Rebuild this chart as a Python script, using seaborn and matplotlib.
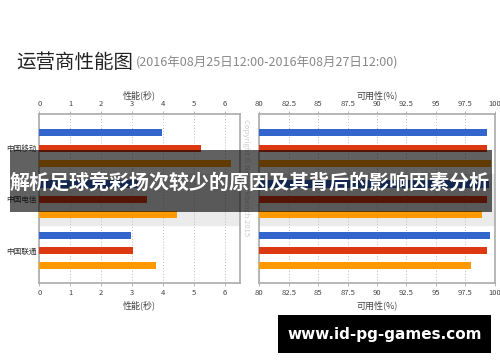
import pandas as pd
import matplotlib.pyplot as plt
import seaborn as sns
from matplotlib.patches import Rectangle

carriers = ["中国移动", "中国电信", "中国联通"]
series_names = ["指标1", "指标2", "指标3"]
colors = ["#3366cc", "#dc3912", "#ff9900"]

# performance (seconds), one list per series
perf_s1 = [3.96, 3.2, 2.96]
perf_s2 = [5.23, 3.49, 3.04]
perf_s3 = [6.18, 4.44, 3.77]

# availability (%)
avail_s1 = [99.35, 99.5, 99.6]
avail_s2 = [99.35, 99.35, 99.3]
avail_s3 = [99.65, 98.9, 98.0]

perf_ticks = [0, 1, 2, 3, 4, 5, 6]
avail_ticks = [80, 82.5, 85, 87.5, 90, 92.5, 95, 97.5, 100]
avail_labels = ["80", "82.5", "85", "87.5", "90", "92.5", "95", "97.5", "100"]


def long_table(a, b, c):
    rows = []
    for vals, name in zip([a, b, c], series_names):
        for carrier, v in zip(carriers, vals):
            rows.append({"carrier": carrier, "series": name, "value": v})
    return pd.DataFrame(rows)


perf = long_table(perf_s1, perf_s2, perf_s3)
avail = long_table(avail_s1, avail_s2, avail_s3)

sns.set_theme(style="white")
plt.rcParams['font.family'] = ['Noto Sans CJK SC', 'DejaVu Sans']

fig = plt.figure(figsize=(5, 3.62), dpi=100)
ax1 = fig.add_axes([0.0786, 0.218, 0.401, 0.467])
ax2 = fig.add_axes([0.5186, 0.218, 0.471, 0.467])

for ax, data, lim, ticks, labels, xlabel in [
    (ax1, perf, (0, 6.48), perf_ticks, [str(t) for t in perf_ticks], "性能(秒)"),
    (ax2, avail, (80, 100), avail_ticks, avail_labels, "可用性(%)"),
]:
    ax.axhspan(0.5, 1.5, color="#ebebeb", zorder=0)
    sns.barplot(data=data, x="value", y="carrier", hue="series",
                palette=colors, saturation=1, orient="h", width=0.9, gap=0.54, ax=ax,
                legend=False, edgecolor="none", zorder=3)
    ax.set_xlim(*lim)
    ax.set_ylim(2.64, -0.67)
    ax.set_xticks(ticks)
    ax.set_xticklabels(labels)
    ax.grid(axis="x", linestyle=(0, (1, 2)), color="#bbbbbb", linewidth=0.7, zorder=1)
    ax.set_axisbelow(True)
    ax.set_xlabel(xlabel, fontsize=6.5, color="#444444", labelpad=2)
    ax.set_ylabel("")
    for s in ax.spines.values():
        s.set_color("#aaaaaa")
        s.set_linewidth(1.2)
    ax.tick_params(axis="x", labelsize=5.5, colors="#aaaaaa", labelcolor="#444444",
                   length=2.5, width=0.6, pad=2, top=True, labeltop=True,
                   bottom=True, labelbottom=True, direction="out")
    ax.tick_params(axis="y", length=0, labelsize=5.5, labelcolor="#333333", pad=2)
    # label above the top tick labels
    ax.text(0.5, 1.108, xlabel, transform=ax.transAxes, fontsize=6.5, color="#444444",
            ha="center", va="center")

ax2.set_yticklabels([])

fig.text(0.032, 0.827, "运营商性能图", fontsize=14, color="#222222", va="center")
fig.text(0.272, 0.826, "(2016年08月25日12:00-2016年08月27日12:00)", fontsize=9,
         color="#888888", va="center")

fig.text(0.491, 0.51, "Copyright © Networkbench 2015", rotation=-90, fontsize=5.5,
         color="#cccccc", ha="center", va="center")

# overlay banner
fig.patches.append(Rectangle((0.02, 0.4144), 0.964, 0.171, transform=fig.transFigure,
                             facecolor="black", alpha=0.62, edgecolor="none", zorder=10))
fig.text(0.5, 0.498, "解析足球竞彩场次较少的原因及其背后的影响因素分析", fontsize=14.4,
         fontweight="bold", color="white", ha="center", va="center", zorder=11)

# watermark box
fig.patches.append(Rectangle((0.556, 0.025), 0.426, 0.105, transform=fig.transFigure,
                             facecolor="black", edgecolor="none", zorder=10))
fig.text(0.769, 0.077, "www.id-pg-games.com", fontsize=11, fontweight="bold",
         color="white", ha="center", va="center", family="DejaVu Sans", zorder=11)

fig.savefig("out.png", dpi=100)
